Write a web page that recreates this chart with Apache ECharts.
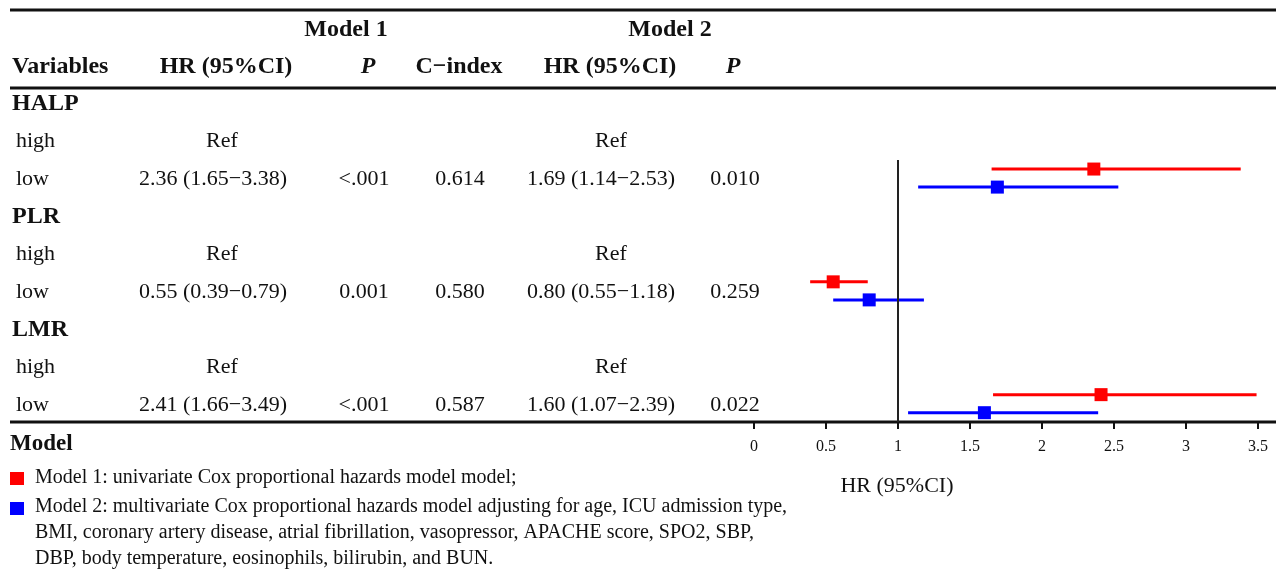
<!DOCTYPE html>
<html>
<head>
<meta charset="utf-8">
<script src="https://cdn.jsdelivr.net/npm/echarts@6/dist/echarts.min.js"></script>
<style>
  html, body { margin: 0; padding: 0; background: #fff; }
  #chart { width: 1276px; height: 571px; }
</style>
</head>
<body>
<div id="chart"></div>
<script>
// table rows
const variables = ['HALP', 'PLR', 'LMR']
const levels = ['high', 'low']

// Model 1 (univariate)
const m1HR = [2.36, 0.55, 2.41]
const m1Lo = [1.65, 0.39, 1.66]
const m1Hi = [3.38, 0.79, 3.49]
const m1P = ['<.001', '0.001', '<.001']
const cIndex = ['0.614', '0.580', '0.587']

// Model 2 (multivariate)
const m2HR = [1.69, 0.80, 1.60]
const m2Lo = [1.14, 0.55, 1.07]
const m2Hi = [2.53, 1.18, 2.39]
const m2P = ['0.010', '0.259', '0.022']

const xTicks = [0, 0.5, 1, 1.5, 2, 2.5, 3, 3.5]

const footLines = [
  'Model 1: univariate Cox proportional hazards model model;',
  'Model 2: multivariate Cox proportional hazards model adjusting for age, ICU admission type,',
  'BMI, coronary artery disease, atrial fibrillation, vasopressor, APACHE score, SPO2, SBP,',
  'DBP, body temperature, eosinophils, bilirubin, and BUN.'
]

const RED = '#ff0000'
const BLUE = '#0000ff'
const FONT = '"Liberation Serif", "Times New Roman", serif'

// layout of the table (pixels)
const rowTop = 104
const rowStep = 37.6
const rowY = r => rowTop + r * rowStep

const fmt = (hr, lo, hi) => `${hr.toFixed(2)} (${lo.toFixed(2)}\u2212${hi.toFixed(2)})`

const chart = echarts.init(document.getElementById('chart'))

const graphics = []
const txt = (text, x, y, opt = {}) => {
  graphics.push({
    type: 'text',
    x, y,
    silent: true,
    style: {
      text,
      fill: '#111',
      fontFamily: FONT,
      fontSize: opt.size || 22,
      fontWeight: opt.bold ? 'bold' : 'normal',
      fontStyle: opt.italic ? 'italic' : 'normal',
      align: opt.align || 'left',
      verticalAlign: 'middle'
    }
  })
}
const rule = (y, x1, x2, w) => {
  graphics.push({
    type: 'line',
    silent: true,
    shape: { x1, y1: y, x2, y2: y },
    style: { stroke: '#111', lineWidth: w }
  })
}

// rules
rule(10, 10, 1276, 3)
rule(88, 10, 1276, 3)
rule(422, 10, 1276, 3)

// header
txt('Model 1', 346, 30, { bold: true, size: 24, align: 'center' })
txt('Model 2', 670, 30, { bold: true, size: 24, align: 'center' })
txt('Variables', 12, 67, { bold: true, size: 24 })
txt('HR (95%CI)', 226, 67, { bold: true, size: 24, align: 'center' })
txt('P', 368, 67, { bold: true, italic: true, size: 24, align: 'center' })
txt('C\u2212index', 459, 67, { bold: true, size: 24, align: 'center' })
txt('HR (95%CI)', 610, 67, { bold: true, size: 24, align: 'center' })
txt('P', 733, 67, { bold: true, italic: true, size: 24, align: 'center' })

// body
variables.forEach((v, i) => {
  const r = i * 3
  txt(v, 12, rowY(r), { bold: true, size: 24 })
  txt(levels[0], 16, rowY(r + 1))
  txt('Ref', 222, rowY(r + 1), { align: 'center' })
  txt('Ref', 611, rowY(r + 1), { align: 'center' })
  txt(levels[1], 16, rowY(r + 2))
  txt(fmt(m1HR[i], m1Lo[i], m1Hi[i]), 213, rowY(r + 2), { align: 'center' })
  txt(m1P[i], 364, rowY(r + 2), { align: 'center' })
  txt(cIndex[i], 460, rowY(r + 2), { align: 'center' })
  txt(fmt(m2HR[i], m2Lo[i], m2Hi[i]), 601, rowY(r + 2), { align: 'center' })
  txt(m2P[i], 735, rowY(r + 2), { align: 'center' })
})

// footer
txt('Model', 10, 444, { bold: true, size: 23 })
txt('HR (95%CI)', 897, 486, { size: 22, align: 'center' })
const footY = [478, 507, 533, 559]
footLines.forEach((t, i) => txt(t, 35, footY[i], { size: 20 }))
graphics.push({ type: 'rect', silent: true, shape: { x: 10, y: 472, width: 14, height: 13 }, style: { fill: RED } })
graphics.push({ type: 'rect', silent: true, shape: { x: 10, y: 502, width: 14, height: 13 }, style: { fill: BLUE } })

// forest data: row "low" of each variable, model 1 a bit above, model 2 a bit below
const m1Pts = variables.map((v, i) => [m1HR[i], i * 3 + 2 - 0.27])
const m2Pts = variables.map((v, i) => [m2HR[i], i * 3 + 2 + 0.21])
const m1CI = variables.map((v, i) => [m1Lo[i], m1Hi[i], i * 3 + 2 - 0.27])
const m2CI = variables.map((v, i) => [m2Lo[i], m2Hi[i], i * 3 + 2 + 0.21])

const ciSeries = (data, color) => ({
  type: 'custom',
  silent: true,
  data,
  encode: { x: [0, 1], y: 2 },
  renderItem: (params, api) => {
    const a = api.coord([api.value(0), api.value(2)])
    const b = api.coord([api.value(1), api.value(2)])
    return {
      type: 'line',
      shape: { x1: a[0], y1: a[1], x2: b[0], y2: b[1] },
      style: { stroke: color, lineWidth: 3 }
    }
  },
  z: 2
})

const option = {
  backgroundColor: '#fff',
  animation: false,
  grid: { left: 754, right: 18, top: 160, bottom: 149 },
  xAxis: {
    type: 'value',
    min: 0,
    max: 3.5,
    interval: 0.5,
    axisLine: { show: false },
    axisTick: { show: true, length: 7, lineStyle: { color: '#111', width: 2 } },
    axisLabel: {
      color: '#111',
      fontFamily: FONT,
      fontSize: 16,
      margin: 17,
      formatter: v => (xTicks.includes(v) ? String(v) : '')
    },
    splitLine: { show: false }
  },
  yAxis: {
    type: 'value',
    inverse: true,
    min: (160 - rowTop) / rowStep,
    max: (422 - rowTop) / rowStep,
    show: false
  },
  series: [
    ciSeries(m1CI, RED),
    ciSeries(m2CI, BLUE),
    {
      type: 'scatter',
      data: m1Pts,
      symbol: 'rect',
      symbolSize: 13,
      itemStyle: { color: RED, opacity: 1 },
      z: 3,
      markLine: {
        silent: true,
        symbol: 'none',
        label: { show: false },
        lineStyle: { color: '#222', width: 2, type: 'solid' },
        data: [{ xAxis: 1 }]
      }
    },
    {
      type: 'scatter',
      data: m2Pts,
      symbol: 'rect',
      symbolSize: 13,
      itemStyle: { color: BLUE, opacity: 1 },
      z: 3
    }
  ],
  graphic: graphics
}

chart.setOption(option)
</script>
</body>
</html>
